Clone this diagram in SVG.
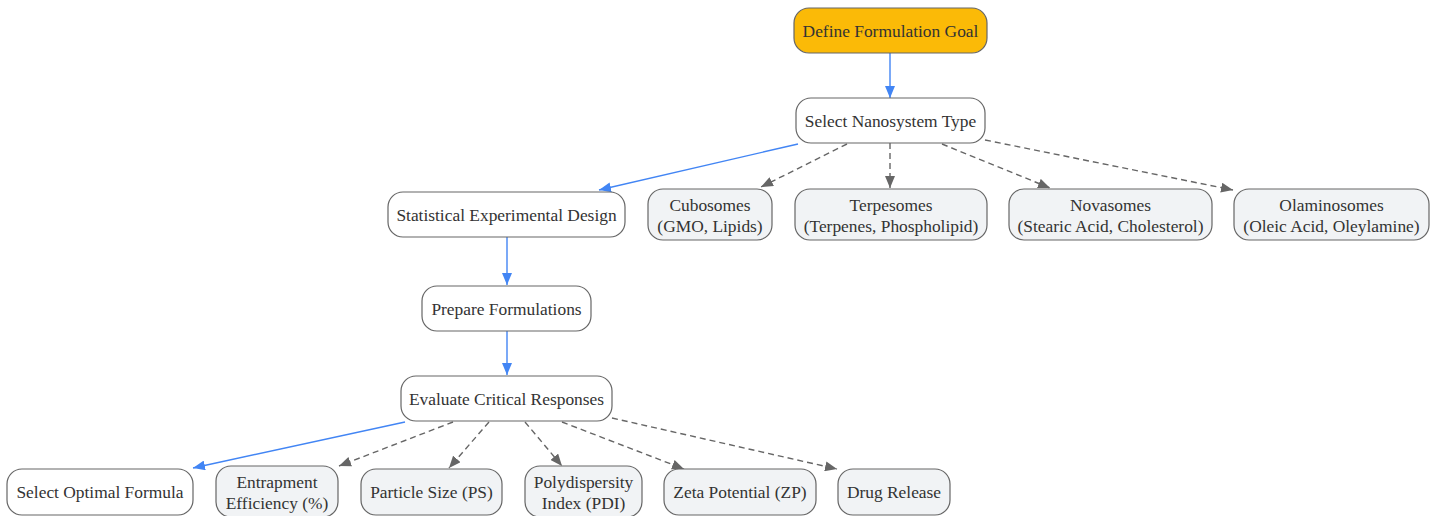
<svg xmlns="http://www.w3.org/2000/svg" width="1436" height="516" viewBox="0 0 1436 516">
<style>
.n rect{fill:#ffffff;stroke:#666666;stroke-width:1.2}
.n.opt rect{fill:#f1f3f5}
.n.goal rect{fill:#fbba07;stroke:#666666}
.n text{font-family:"Liberation Serif",serif;font-size:17.4px;fill:#333333;text-anchor:middle}
.e{fill:none;stroke-width:1.4}
.b{stroke:#4285f4}
.d{stroke:#666666;stroke-dasharray:6,4}
</style>
<defs>
<marker id="ab" viewBox="0 0 12 10" refX="12" refY="5" markerWidth="12" markerHeight="10" markerUnits="userSpaceOnUse" orient="auto"><path d="M0,0 L12,5 L0,10 z" fill="#4285f4"/></marker>
<marker id="ag" viewBox="0 0 12 10" refX="12" refY="5" markerWidth="12" markerHeight="10" markerUnits="userSpaceOnUse" orient="auto"><path d="M0,0 L12,5 L0,10 z" fill="#666666"/></marker>
</defs>
<g id="connectors">
<path class="e b" d="M890,53 L890,98" marker-end="url(#ab)"/>
<path class="e b" d="M798,144 L599,190" marker-end="url(#ab)"/>
<path class="e d" d="M847,144 L761,187" marker-end="url(#ag)"/>
<path class="e d" d="M890,143 L890,188" marker-end="url(#ag)"/>
<path class="e d" d="M942,144 L1050,188" marker-end="url(#ag)"/>
<path class="e d" d="M985,140 L1233,190" marker-end="url(#ag)"/>
<path class="e b" d="M507,237 L507,285" marker-end="url(#ab)"/>
<path class="e b" d="M507,331 L507,375" marker-end="url(#ab)"/>
<path class="e b" d="M405,422 L193,468" marker-end="url(#ab)"/>
<path class="e d" d="M453,422 L339,466" marker-end="url(#ag)"/>
<path class="e d" d="M489,422 L449,468" marker-end="url(#ag)"/>
<path class="e d" d="M525,422 L562,466" marker-end="url(#ag)"/>
<path class="e d" d="M562,422 L684,469" marker-end="url(#ag)"/>
<path class="e d" d="M612,418 L837,469" marker-end="url(#ag)"/>
</g>
<g id="goal" class="n goal"><rect x="794" y="8" width="193" height="45" rx="15"/><text x="890.5" y="37">Define Formulation Goal</text></g>
<g id="select" class="n"><rect x="796" y="98" width="189" height="45" rx="15"/><text x="890.5" y="127">Select Nanosystem Type</text></g>
<g id="design" class="n"><rect x="388" y="192" width="237" height="45" rx="15"/><text x="506.5" y="221">Statistical Experimental Design</text></g>
<g id="cubosomes" class="n opt"><rect x="648" y="189" width="124" height="51" rx="15"/><text x="710" y="211">Cubosomes</text><text x="710" y="232">(GMO, Lipids)</text></g>
<g id="terpesomes" class="n opt"><rect x="795" y="189" width="192" height="51" rx="15"/><text x="891" y="211">Terpesomes</text><text x="891" y="232">(Terpenes, Phospholipid)</text></g>
<g id="novasomes" class="n opt"><rect x="1009" y="189" width="203" height="51" rx="15"/><text x="1110.5" y="211">Novasomes</text><text x="1110.5" y="232">(Stearic Acid, Cholesterol)</text></g>
<g id="olaminosomes" class="n opt"><rect x="1234" y="189" width="195" height="51" rx="15"/><text x="1331.5" y="211">Olaminosomes</text><text x="1331.5" y="232">(Oleic Acid, Oleylamine)</text></g>
<g id="prepare" class="n"><rect x="422" y="286" width="169" height="45" rx="15"/><text x="506.5" y="315">Prepare Formulations</text></g>
<g id="evaluate" class="n"><rect x="401" y="376" width="211" height="45" rx="15"/><text x="506.5" y="405">Evaluate Critical Responses</text></g>
<g id="optimal" class="n"><rect x="7" y="469" width="186" height="46" rx="15"/><text x="100" y="498">Select Optimal Formula</text></g>
<g id="ee" class="n opt"><rect x="216" y="466" width="122" height="51" rx="15"/><text x="277" y="488">Entrapment</text><text x="277" y="509">Efficiency (%)</text></g>
<g id="ps" class="n opt"><rect x="361" y="469" width="141" height="46" rx="15"/><text x="431.5" y="498">Particle Size (PS)</text></g>
<g id="pdi" class="n opt"><rect x="525" y="466" width="117" height="51" rx="15"/><text x="583.5" y="488">Polydispersity</text><text x="583.5" y="509">Index (PDI)</text></g>
<g id="zp" class="n opt"><rect x="664" y="469" width="152" height="46" rx="15"/><text x="740" y="498">Zeta Potential (ZP)</text></g>
<g id="release" class="n opt"><rect x="838" y="469" width="112" height="46" rx="15"/><text x="894" y="498">Drug Release</text></g>
</svg>
